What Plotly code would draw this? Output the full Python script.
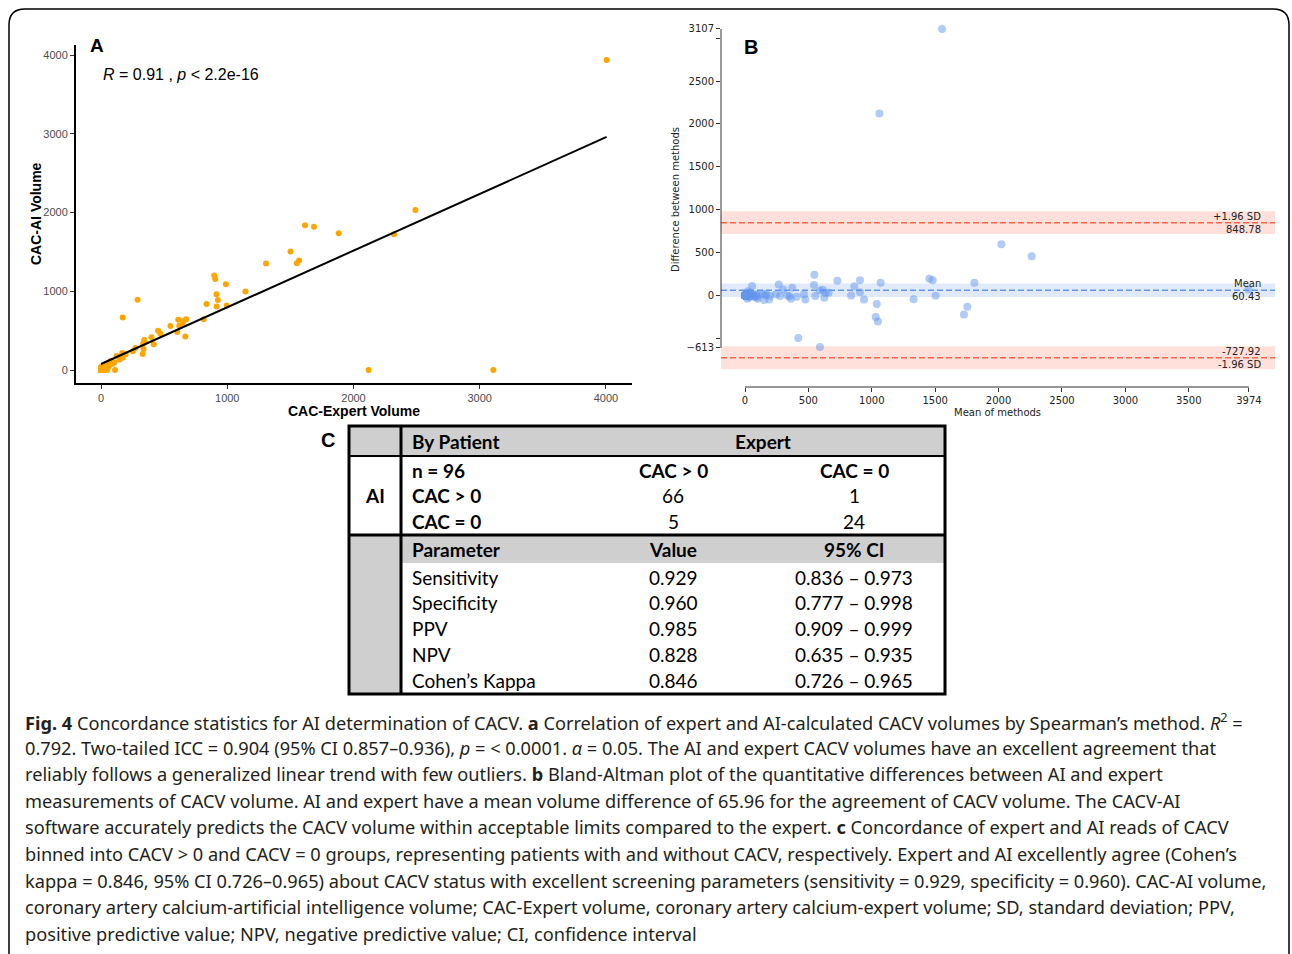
import plotly.graph_objects as go

W, H = 1292, 954


def fx(p):
    return p / W


def fy(p):
    return 1 - p / H


# ---------------- Panel A data (expert vs AI volume) ----------------
expert_volume = [
    4005, 2490, 2321, 1883, 1687, 1616, 1551, 1569, 1501, 1307, 1144, 989, 905, 897,
    996, 916, 926, 836, 915, 813, 668, 604, 172, 290,
    612, 651, 675, 646, 620, 550, 452, 471, 400, 418, 334, 337, 330, 346, 343, 272,
    252, 168, 174, 148, 195, 106, 158, 124, 79, 85, 63, 53, 37, 18, 5, 12, 25, 30,
    45, 60, 70, 92, 15, 40, 75, 28,
    3108, 2120, 111, 48, 22,
    0,
    0, 0, 0, 0, 0, 0, 0, 0, 0, 0, 0, 0, 0, 0, 0, 0, 0, 0, 0, 0, 0, 0, 0, 0,
]
ai_volume = [
    3937, 2032, 1723, 1735, 1820, 1838, 1357, 1391, 1505, 1353, 996, 1090, 1157, 1200,
    818, 808, 888, 838, 962, 643, 426, 484, 668, 892,
    639, 620, 644, 580, 562, 558, 500, 459, 415, 328, 334, 267, 202, 356, 381, 280,
    237, 215, 159, 132, 200, 97, 156, 178, 119, 105, 76, 22, 51, 34, 9, 15, 20, 42,
    35, 55, 62, 80, 25, 10, 90, 6,
    0, 0, 0, 0, 0,
    38,
    0, 0, 0, 0, 0, 0, 0, 0, 0, 0, 0, 0, 0, 0, 0, 0, 0, 0, 0, 0, 0, 0, 0, 0,
]
fit_intercept = 76
fit_slope = 0.72
a_ticks = [0, 1000, 2000, 3000, 4000]

# ---------------- Panel B (Bland-Altman) ----------------
ba_mean = 60.43
ba_upper = 848.78
ba_lower = -727.92
ba_mean_ci_half = 78
ba_loa_ci_half = 134
b_xticks = [0, 500, 1000, 1500, 2000, 2500, 3000, 3500, 3974]
b_yticks = [-613, -500, 0, 500, 1000, 1500, 2000, 2500, 3000, 3107]
b_yticklabels = ["\u2212613", "", "0", "500", "1000", "1500", "2000", "2500", "", "3107"]

ba_means = [(e + a) / 2 for e, a in zip(expert_volume, ai_volume)]
ba_diffs = [e - a for e, a in zip(expert_volume, ai_volume)]

# ---------------- Panel C (table) ----------------
tbl_header = ["By Patient", "Expert"]
tbl_conf_head = ["n = 96", "CAC &gt; 0", "CAC = 0"]
tbl_conf_rows = ["CAC &gt; 0", "CAC = 0"]
tbl_conf_vals = [["66", "1"], ["5", "24"]]
tbl_param_head = ["Parameter", "Value", "95% CI"]
tbl_params = ["Sensitivity", "Specificity", "PPV", "NPV", "Cohen\u2019s Kappa"]
tbl_values = ["0.929", "0.960", "0.985", "0.828", "0.846"]
tbl_ci = ["0.836 \u2013 0.973", "0.777 \u2013 0.998", "0.909 \u2013 0.999",
          "0.635 \u2013 0.935", "0.726 \u2013 0.965"]

caption_lines = [
    "<b>Fig. 4</b> Concordance statistics for AI determination of CACV. <b>a</b> Correlation of expert and AI-calculated CACV volumes by Spearman\u2019s method. <i>R</i><sup>2</sup> =",
    "0.792. Two-tailed ICC = 0.904 (95% CI 0.857\u20130.936), <i>p</i> = &lt; 0.0001. <i>\u03b1</i> = 0.05. The AI and expert CACV volumes have an excellent agreement that",
    "reliably follows a generalized linear trend with few outliers. <b>b</b> Bland-Altman plot of the quantitative differences between AI and expert",
    "measurements of CACV volume. AI and expert have a mean volume difference of 65.96 for the agreement of CACV volume. The CACV-AI",
    "software accurately predicts the CACV volume within acceptable limits compared to the expert. <b>c</b> Concordance of expert and AI reads of CACV",
    "binned into CACV &gt; 0 and CACV = 0 groups, representing patients with and without CACV, respectively. Expert and AI excellently agree (Cohen\u2019s",
    "kappa = 0.846, 95% CI 0.726\u20130.965) about CACV status with excellent screening parameters (sensitivity = 0.929, specificity = 0.960). CAC-AI volume,",
    "coronary artery calcium-artificial intelligence volume; CAC-Expert volume, coronary artery calcium-expert volume; SD, standard deviation; PPV,",
    "positive predictive value; NPV, negative predictive value; CI, confidence interval",
]

ARIAL = "Liberation Sans, Arial, sans-serif"
DEJAVU = "DejaVu Sans, sans-serif"
TBLFONT = "Lato, sans-serif"
CAPFONT = "Noto Sans, sans-serif"

fig = go.Figure()

# Panel A traces
fig.add_trace(go.Scatter(
    x=expert_volume, y=ai_volume, mode="markers",
    marker=dict(color="#FFA500", size=6, line=dict(width=0)),
    xaxis="x", yaxis="y", hoverinfo="skip"))
x_fit = [min(expert_volume), max(expert_volume)]
fig.add_trace(go.Scatter(
    x=x_fit, y=[fit_intercept + fit_slope * v for v in x_fit], mode="lines",
    line=dict(color="black", width=2), xaxis="x", yaxis="y", hoverinfo="skip"))

# Panel B traces
fig.add_trace(go.Scatter(
    x=ba_means, y=ba_diffs, mode="markers",
    marker=dict(color="rgba(100,149,237,0.5)", size=8, line=dict(width=0)),
    xaxis="x2", yaxis="y2", hoverinfo="skip"))

shapes = []
annotations = []


def note(x, y, text, size, family, color="black", xanchor="center", yanchor="middle",
         angle=0):
    annotations.append(dict(xref="paper", yref="paper", x=fx(x), y=fy(y), text=text,
                            xanchor=xanchor, yanchor=yanchor, textangle=angle,
                            showarrow=False,
                            font=dict(family=family, size=size, color=color)))


# Panel B bands and lines
for centre, half, col in [(ba_upper, ba_loa_ci_half, "255,99,71"),
                          (ba_lower, ba_loa_ci_half, "255,99,71"),
                          (ba_mean, ba_mean_ci_half, "100,149,237")]:
    shapes.append(dict(type="rect", xref="x2 domain", yref="y2", x0=0, x1=1,
                       y0=centre - half, y1=centre + half,
                       fillcolor=f"rgba({col},0.2)", line=dict(width=0), layer="below"))
    shapes.append(dict(type="line", xref="x2 domain", yref="y2", x0=0, x1=1,
                       y0=centre, y1=centre,
                       line=dict(color=f"rgb({col})", width=1.5, dash="6px,3px"), layer="below"))
# spines of B
shapes.append(dict(type="line", xref="x2", yref="y2 domain", x0=b_xticks[0], x1=b_xticks[-1],
                   y0=0, y1=0, line=dict(color="#333", width=1)))
shapes.append(dict(type="line", xref="x2 domain", yref="y2", x0=0, x1=0,
                   y0=b_yticks[0], y1=b_yticks[-1], line=dict(color="#333", width=1)))

for yv, top, bottom in [(ba_upper, "+1.96 SD", f"{ba_upper:.2f}"),
                        (ba_mean, "Mean", f"{ba_mean:.2f}"),
                        (ba_lower, f"{ba_lower:.2f}", "-1.96 SD")]:
    annotations.append(dict(xref="x2 domain", yref="y2", x=0.978, y=yv, text=top,
                            xanchor="right", yanchor="bottom", showarrow=False, yshift=-1,
                            font=dict(family=DEJAVU, size=10, color="#222")))
    annotations.append(dict(xref="x2 domain", yref="y2", x=0.978, y=yv, text=bottom,
                            xanchor="right", yanchor="top", showarrow=False, yshift=1,
                            font=dict(family=DEJAVU, size=10, color="#222")))

# Axis titles & panel labels
note(97, 46, "<b>A</b>", 19, ARIAL)
note(101, 74, "<i>R</i> = 0.91 , <i>p</i> &lt; 2.2e-16", 16, ARIAL, xanchor="left")
note(354, 411, "<b>CAC-Expert Volume</b>", 14, ARIAL)
note(36, 214, "<b>CAC-AI Volume</b>", 14, ARIAL, angle=-90)
note(751, 47, "<b>B</b>", 20, ARIAL)
note(997, 413, "Mean of methods", 10, DEJAVU, "#222")
note(675, 200, "Difference between methods", 10, DEJAVU, "#222", angle=-90)
note(328, 440, "<b>C</b>", 20, ARIAL)

# ---------------- Table C ----------------
T_L, T_R, T_T, T_B = 349, 945, 426, 694
C1 = 401
GRAY = "#cfcfcf"
shapes += [
    dict(type="rect", xref="paper", yref="paper", x0=fx(T_L), x1=fx(T_R), y0=fy(456), y1=fy(T_T),
         fillcolor=GRAY, line=dict(width=0), layer="below"),
    dict(type="rect", xref="paper", yref="paper", x0=fx(T_L), x1=fx(C1), y0=fy(T_B), y1=fy(535),
         fillcolor=GRAY, line=dict(width=0), layer="below"),
    dict(type="rect", xref="paper", yref="paper", x0=fx(C1), x1=fx(T_R), y0=fy(563), y1=fy(535),
         fillcolor=GRAY, line=dict(width=0), layer="below"),
    dict(type="line", xref="paper", yref="paper", x0=fx(C1), x1=fx(C1), y0=fy(T_B), y1=fy(T_T),
         line=dict(color="black", width=3)),
    dict(type="line", xref="paper", yref="paper", x0=fx(T_L), x1=fx(T_R), y0=fy(456), y1=fy(456),
         line=dict(color="black", width=2)),
    dict(type="line", xref="paper", yref="paper", x0=fx(T_L), x1=fx(T_R), y0=fy(535), y1=fy(535),
         line=dict(color="black", width=3)),
    dict(type="rect", xref="paper", yref="paper", x0=fx(T_L), x1=fx(T_R), y0=fy(T_B), y1=fy(T_T),
         line=dict(color="black", width=3)),
]

col2_x, col3_x, col4_x = 410, 673, 854
TS = 19


def tcell(x, y, text, bold=False, anchor="center"):
    note(x, y, f"<b>{text}</b>" if bold else text, TS, TBLFONT, xanchor=anchor)


tcell(col2_x, 441, tbl_header[0], True, "left")
tcell(763, 441, tbl_header[1], True)
tcell(375, 496, "AI", True)
conf_y = [470, 496, 521.5]
tcell(col2_x, conf_y[0], tbl_conf_head[0], True, "left")
tcell(col3_x, conf_y[0], tbl_conf_head[1], True)
tcell(col4_x, conf_y[0], tbl_conf_head[2], True)
for i, (rname, vals) in enumerate(zip(tbl_conf_rows, tbl_conf_vals)):
    tcell(col2_x, conf_y[i + 1], rname, True, "left")
    tcell(col3_x, conf_y[i + 1], vals[0])
    tcell(col4_x, conf_y[i + 1], vals[1])
tcell(col2_x, 549.5, tbl_param_head[0], True, "left")
tcell(col3_x, 549.5, tbl_param_head[1], True)
tcell(col4_x, 549.5, tbl_param_head[2], True)
param_y = [577, 602.5, 628, 654, 680]
for yv, pn, pv, pc in zip(param_y, tbl_params, tbl_values, tbl_ci):
    tcell(col2_x, yv, pn, False, "left")
    tcell(col3_x, yv, pv)
    tcell(col4_x, yv, pc)

# ---------------- Caption ----------------
cap_y = [721, 747.5, 774, 800.5, 827, 854, 880.5, 907, 934]
for yv, line in zip(cap_y, caption_lines):
    note(23, yv, line, 18.2, CAPFONT, "#231f20", xanchor="left")

# rounded outer frame
x0, x1, yt, yb = fx(9), fx(1289), fy(9), fy(975)
rx, ry = 16 / W, 16 / H
shapes.append(dict(type="path", xref="paper", yref="paper",
                   path=f"M {x0},{yb} L {x0},{yt - ry} Q {x0},{yt} {x0 + rx},{yt} "
                        f"L {x1 - rx},{yt} Q {x1},{yt} {x1},{yt - ry} L {x1},{yb}",
                   line=dict(color="black", width=1.5)))

axis_common = dict(showgrid=False, zeroline=False, ticks="outside")
fig.update_layout(
    width=W, height=H, margin=dict(l=0, r=0, t=0, b=0),
    paper_bgcolor="white", plot_bgcolor="white", showlegend=False,
    xaxis=dict(domain=[fx(76), fx(632)], range=[-198, 4206], tickvals=a_ticks,
               showline=True, linecolor="black", linewidth=2, ticklen=4, tickcolor="#333",
               tickfont=dict(family=ARIAL, size=11, color="#4d4d4d"), anchor="y", **axis_common),
    yaxis=dict(domain=[fy(383), fy(45)], range=[-165, 4127], tickvals=a_ticks,
               showline=True, linecolor="black", linewidth=2, ticklen=4, tickcolor="#333",
               tickfont=dict(family=ARIAL, size=11, color="#4d4d4d"), anchor="x", **axis_common),
    xaxis2=dict(domain=[fx(721), fx(1275)], range=[-189.3, 4180], tickvals=b_xticks,
                ticktext=[str(v) for v in b_xticks], showline=False, ticklen=4, tickcolor="#333",
                tickfont=dict(family=DEJAVU, size=10, color="#222"), anchor="y2", **axis_common),
    yaxis2=dict(domain=[fy(387), fy(18)], range=[-1068, 3235], tickvals=b_yticks,
                ticktext=b_yticklabels, showline=False, ticklen=4, tickcolor="#333",
                tickfont=dict(family=DEJAVU, size=10, color="#222"), anchor="x2", **axis_common),
    shapes=shapes, annotations=annotations,
)

fig.write_html("out.html")
